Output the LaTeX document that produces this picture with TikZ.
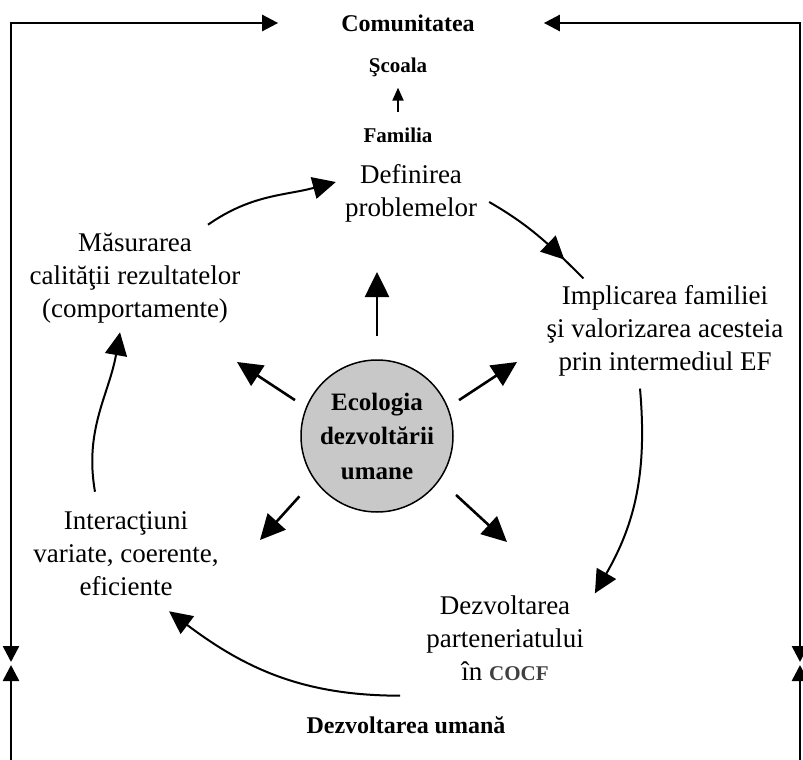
\documentclass[tikz,border=0pt]{standalone}
\usepackage{fontspec}
\setmainfont{Liberation Serif}
\usetikzlibrary{arrows.meta,positioning,decorations.markings}
\definecolor{HubGray}{RGB}{200,200,200}
\definecolor{CocfGray}{RGB}{64,64,64}

\begin{document}
\begin{tikzpicture}[x=1pt,y=-1pt,
  phase/.style={align=center,inner sep=2pt,font=\fontsize{27}{33}\selectfont},
  tag/.style={inner sep=0pt,font=\fontsize{24}{28}\selectfont\bfseries},
  smalltag/.style={inner sep=0pt,font=\fontsize{21}{25}\selectfont\bfseries},
  hub/.style={circle,draw,line width=1.5pt,fill=HubGray,minimum size=152pt,inner sep=0pt,align=center,font=\fontsize{25}{34.5}\selectfont\bfseries},
  ray/.style={-{Triangle[length=25pt,width=24pt]},line width=2.6pt},
  flow/.style={-{Triangle[length=23pt,width=22pt]},line width=2pt},
  flowmid/.style={line width=2pt,postaction={decorate},
    decoration={markings,mark=at position 0.78 with {\arrow{Triangle[length=23pt,width=22pt]}}}},
  outer/.style={line width=2.6pt,>={Triangle[length=16pt,width=16pt]}},
  lift/.style={-{Triangle[length=13pt,width=11pt]},line width=2pt}
]
  \useasboundingbox (0,0) rectangle (803,760);

  % labels
  \node[tag] (comm) at (408,23) {Comunitatea};
  \node[smalltag] (scoala) at (398,67) {Şcoala};
  \node[smalltag] (fam) at (398,135) {Familia};
  \node[tag] (human) at (406,725) {Dezvoltarea umană};

  % cycle
  \node[phase] (defn) at (411,193) {Definirea\\ problemelor};
  \node[phase] (impl) at (665,331) {Implicarea familiei\\ şi valorizarea acesteia\\ prin intermediul EF};
  \node[phase] (dezv) at (505,638) {Dezvoltarea\\ parteneriatului\\ în {\bfseries\fontsize{21}{22}\selectfont\color{CocfGray}COCF}};
  \node[phase] (inter) at (126,554) {Interacţiuni\\ variate, coerente,\\ eficiente};
  \node[phase] (meas) at (135,278) {Măsurarea\\ calităţii rezultatelor\\ (comportamente)};
  \node[hub] (hub) at (377,436) {Ecologia\\ dezvoltării\\ umane};

  % frame
  \coordinate (tl) at (11,23);
  \coordinate (tr) at (800,23);
  \coordinate (mld) at (11,662);
  \coordinate (mlu) at (11,665);
  \coordinate (bl) at (11,760);
  \coordinate (mrd) at (800,662);
  \coordinate (mru) at (800,665);
  \coordinate (br) at (800,760);
  \draw[outer,<->,shorten >=63pt] (mld) -- (tl) -- (comm);
  \draw[outer,<->,shorten >=69pt] (mrd) -- (tr) -- (comm);
  \draw[outer,->] (bl) -- (mlu);
  \draw[outer,->] (br) -- (mru);

  \draw[lift,shorten <=15pt,shorten >=11pt] (fam) -- (scoala);

  % rays
  \coordinate (rayN) at (377,272);
  \coordinate (rayNE) at (517,362);
  \coordinate (rayNW) at (237,362);
  \coordinate (raySE) at (507,542);
  \coordinate (raySW) at (260,540);
  \draw[ray,shorten <=23pt] (hub.north) -- (rayN);
  \draw[ray,shorten <=13pt] (hub.22) -- (rayNE);
  \draw[ray,shorten <=13pt] (hub.158) -- (rayNW);
  \draw[ray,shorten <=22pt] (hub.-35) -- (raySE);
  \draw[ray,shorten <=22pt] (hub.-145) -- (raySW);

  % cycle arrows
  \draw[flow] ([shift={(73,-6)}]meas.north) to[out=35,in=195] ([shift={(-7,-11)}]defn.west);
  \draw[flowmid] ([shift={(10,9)}]defn.east) to[out=-30,in=135] ([shift={(39,-5)}]impl.north west);
  \draw[flow] ([shift={(-25,10)}]impl.south) to[out=-85,in=60] ([shift={(9,0)}]dezv.north east);
  \draw[flow] ([shift={(-24,13)}]dezv.south west) to[out=180,in=-37] ([shift={(43,13)}]inter.south);
  \draw[flow] ([shift={(-31,-18)}]inter.north) to[out=100,in=-100] ([shift={(-15,7)}]meas.south);
\end{tikzpicture}
\end{document}
